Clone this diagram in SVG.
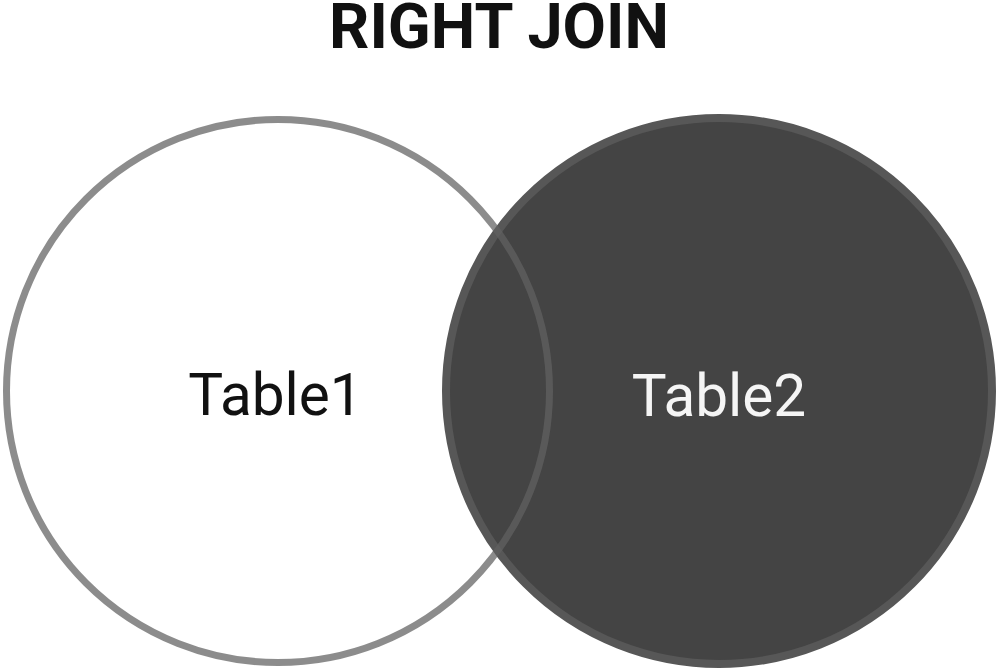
<svg xmlns="http://www.w3.org/2000/svg" width="999" height="669" viewBox="0 0 999 669">
  <style>
    .title { font-family: Roboto, "Liberation Sans", sans-serif; font-weight: bold; font-size: 63px; fill: #111111; }
    .label { font-family: Roboto, "Liberation Sans", sans-serif; font-size: 58.5px; }
  </style>
  <rect width="999" height="669" fill="#ffffff"/>
  <text class="title" x="499" y="48" text-anchor="middle">RIGHT JOIN</text>
  <g id="table2">
    <circle cx="719" cy="391" r="273" fill="#444444" stroke="#575757" stroke-width="8"/>
    <text class="label" x="719" y="416" text-anchor="middle" fill="#f5f5f5">Table2</text>
  </g>
  <g id="table1">
    <circle cx="278" cy="391" r="271.5" fill="none" stroke="#626262" stroke-opacity="0.73" stroke-width="7"/>
    <text class="label" x="275.5" y="415" text-anchor="middle" fill="#111111">Table1</text>
  </g>
  <g id="connectors"/>
</svg>
